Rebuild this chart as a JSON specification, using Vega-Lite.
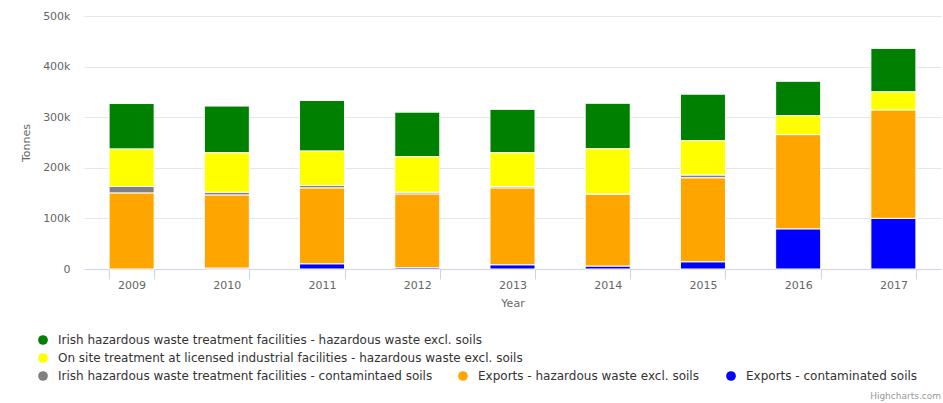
{
  "$schema": "https://vega.github.io/schema/vega-lite/v6.json",
  "width": 857,
  "height": 253,
  "autosize": {"type": "none"},
  "padding": {"left": 84, "top": 16, "right": 2, "bottom": 134},
  "background": "white",
  "title": {"text": "Highcharts.com", "orient": "bottom", "anchor": "end", "fontSize": 9, "color": "#999999", "fontWeight": "normal", "font": "DejaVu Sans", "offset": 10},
  "config": {
    "view": {"stroke": null},
    "font": "DejaVu Sans",
    "legend": {"title": null, "padding": 0, "symbolType": "circle", "symbolSize": 95, "symbolStrokeWidth": 0, "labelFontSize": 12, "labelColor": "#333333", "labelOffset": 9, "labelLimit": 1000, "orient": "none"}
  },
  "data": {"values": [
    {"year": "2009", "series": "Exports - hazardous waste excl. soils", "tonnes": 150000},
    {"year": "2009", "series": "Irish hazardous waste treatment facilities - contamintaed soils", "tonnes": 13000},
    {"year": "2009", "series": "On site treatment at licensed industrial facilities - hazardous waste excl. soils", "tonnes": 74000},
    {"year": "2009", "series": "Irish hazardous waste treatment facilities - hazardous waste excl. soils", "tonnes": 90000},
    {"year": "2010", "series": "Exports - contaminated soils", "tonnes": 1500},
    {"year": "2010", "series": "Exports - hazardous waste excl. soils", "tonnes": 144500},
    {"year": "2010", "series": "Irish hazardous waste treatment facilities - contamintaed soils", "tonnes": 5500},
    {"year": "2010", "series": "On site treatment at licensed industrial facilities - hazardous waste excl. soils", "tonnes": 78000},
    {"year": "2010", "series": "Irish hazardous waste treatment facilities - hazardous waste excl. soils", "tonnes": 92500},
    {"year": "2011", "series": "Exports - contaminated soils", "tonnes": 10000},
    {"year": "2011", "series": "Exports - hazardous waste excl. soils", "tonnes": 150000},
    {"year": "2011", "series": "Irish hazardous waste treatment facilities - contamintaed soils", "tonnes": 5000},
    {"year": "2011", "series": "On site treatment at licensed industrial facilities - hazardous waste excl. soils", "tonnes": 68000},
    {"year": "2011", "series": "Irish hazardous waste treatment facilities - hazardous waste excl. soils", "tonnes": 100000},
    {"year": "2012", "series": "Exports - contaminated soils", "tonnes": 2500},
    {"year": "2012", "series": "Exports - hazardous waste excl. soils", "tonnes": 145500},
    {"year": "2012", "series": "Irish hazardous waste treatment facilities - contamintaed soils", "tonnes": 3500},
    {"year": "2012", "series": "On site treatment at licensed industrial facilities - hazardous waste excl. soils", "tonnes": 70500},
    {"year": "2012", "series": "Irish hazardous waste treatment facilities - hazardous waste excl. soils", "tonnes": 88000},
    {"year": "2013", "series": "Exports - contaminated soils", "tonnes": 8000},
    {"year": "2013", "series": "Exports - hazardous waste excl. soils", "tonnes": 152000},
    {"year": "2013", "series": "Irish hazardous waste treatment facilities - contamintaed soils", "tonnes": 3000},
    {"year": "2013", "series": "On site treatment at licensed industrial facilities - hazardous waste excl. soils", "tonnes": 66500},
    {"year": "2013", "series": "Irish hazardous waste treatment facilities - hazardous waste excl. soils", "tonnes": 86000},
    {"year": "2014", "series": "Exports - contaminated soils", "tonnes": 5500},
    {"year": "2014", "series": "Exports - hazardous waste excl. soils", "tonnes": 142000},
    {"year": "2014", "series": "Irish hazardous waste treatment facilities - contamintaed soils", "tonnes": 500},
    {"year": "2014", "series": "On site treatment at licensed industrial facilities - hazardous waste excl. soils", "tonnes": 89500},
    {"year": "2014", "series": "Irish hazardous waste treatment facilities - hazardous waste excl. soils", "tonnes": 90000},
    {"year": "2015", "series": "Exports - contaminated soils", "tonnes": 14000},
    {"year": "2015", "series": "Exports - hazardous waste excl. soils", "tonnes": 166000},
    {"year": "2015", "series": "Irish hazardous waste treatment facilities - contamintaed soils", "tonnes": 5500},
    {"year": "2015", "series": "On site treatment at licensed industrial facilities - hazardous waste excl. soils", "tonnes": 68000},
    {"year": "2015", "series": "Irish hazardous waste treatment facilities - hazardous waste excl. soils", "tonnes": 92000},
    {"year": "2016", "series": "Exports - contaminated soils", "tonnes": 79000},
    {"year": "2016", "series": "Exports - hazardous waste excl. soils", "tonnes": 186500},
    {"year": "2016", "series": "On site treatment at licensed industrial facilities - hazardous waste excl. soils", "tonnes": 37500},
    {"year": "2016", "series": "Irish hazardous waste treatment facilities - hazardous waste excl. soils", "tonnes": 68000},
    {"year": "2017", "series": "Exports - contaminated soils", "tonnes": 100000},
    {"year": "2017", "series": "Exports - hazardous waste excl. soils", "tonnes": 214000},
    {"year": "2017", "series": "On site treatment at licensed industrial facilities - hazardous waste excl. soils", "tonnes": 36000},
    {"year": "2017", "series": "Irish hazardous waste treatment facilities - hazardous waste excl. soils", "tonnes": 86000}
  ]},
  "transform": [
    {"calculate": "indexof(['Exports - contaminated soils','Exports - hazardous waste excl. soils','Irish hazardous waste treatment facilities - contamintaed soils','On site treatment at licensed industrial facilities - hazardous waste excl. soils','Irish hazardous waste treatment facilities - hazardous waste excl. soils'], datum.series)", "as": "stackOrder"},
    {"stack": "tonnes", "groupby": ["year"], "sort": [{"field": "stackOrder", "order": "ascending"}], "as": ["t0", "t1"]}
  ],
  "encoding": {
    "x": {
      "field": "year", "type": "ordinal",
      "scale": {"paddingInner": 0.527, "paddingOuter": 0.2635},
      "axis": {"title": "Year", "labelAngle": 0, "domainColor": "#ccd6eb", "tickColor": "#ccd6eb", "tickSize": 10, "tickBand": "extent", "labelColor": "#666666", "labelFontSize": 11, "labelPadding": 0, "titleColor": "#666666", "titleFontSize": 11, "titleFontWeight": "normal", "titlePadding": 7, "grid": false}
    },
    "y": {
      "field": "t1", "type": "quantitative",
      "scale": {"domain": [0, 500000], "nice": false},
      "axis": {"title": "Tonnes", "values": [0, 100000, 200000, 300000, 400000, 500000], "labelExpr": "datum.value == 0 ? '0' : (datum.value / 1000) + 'k'", "domain": false, "ticks": false, "grid": true, "gridColor": "#e6e6e6", "labelColor": "#666666", "labelFontSize": 11, "labelPadding": 14, "titleColor": "#666666", "titleFontSize": 11, "titleFontWeight": "normal", "titlePadding": 11}
    },
    "y2": {"field": "t0"}
  },
  "layer": [
    {
      "transform": [{"filter": "datum.series === 'Irish hazardous waste treatment facilities - hazardous waste excl. soils'"}],
      "mark": {"type": "bar", "stroke": "white", "strokeWidth": 1},
      "encoding": {"color": {"field": "series", "type": "nominal", "scale": {"domain": ["Irish hazardous waste treatment facilities - hazardous waste excl. soils"], "range": ["#008000"]}, "legend": {"orient": "none", "legendX": -47, "legendY": 318}}}
    },
    {
      "transform": [{"filter": "datum.series === 'On site treatment at licensed industrial facilities - hazardous waste excl. soils'"}],
      "mark": {"type": "bar", "stroke": "white", "strokeWidth": 1},
      "encoding": {"color": {"field": "series", "type": "nominal", "scale": {"domain": ["On site treatment at licensed industrial facilities - hazardous waste excl. soils"], "range": ["#ffff00"]}, "legend": {"orient": "none", "legendX": -47, "legendY": 336}}}
    },
    {
      "transform": [{"filter": "datum.series === 'Irish hazardous waste treatment facilities - contamintaed soils'"}],
      "mark": {"type": "bar", "stroke": "white", "strokeWidth": 1},
      "encoding": {"color": {"field": "series", "type": "nominal", "scale": {"domain": ["Irish hazardous waste treatment facilities - contamintaed soils"], "range": ["#808080"]}, "legend": {"orient": "none", "legendX": -47, "legendY": 354}}}
    },
    {
      "transform": [{"filter": "datum.series === 'Exports - hazardous waste excl. soils'"}],
      "mark": {"type": "bar", "stroke": "white", "strokeWidth": 1},
      "encoding": {"color": {"field": "series", "type": "nominal", "scale": {"domain": ["Exports - hazardous waste excl. soils"], "range": ["#ffa500"]}, "legend": {"orient": "none", "legendX": 373, "legendY": 354}}}
    },
    {
      "transform": [{"filter": "datum.series === 'Exports - contaminated soils'"}],
      "mark": {"type": "bar", "stroke": "white", "strokeWidth": 1},
      "encoding": {"color": {"field": "series", "type": "nominal", "scale": {"domain": ["Exports - contaminated soils"], "range": ["#0000ff"]}, "legend": {"orient": "none", "legendX": 641, "legendY": 354}}}
    }
  ],
  "resolve": {"scale": {"color": "independent"}, "legend": {"color": "independent"}}
}
